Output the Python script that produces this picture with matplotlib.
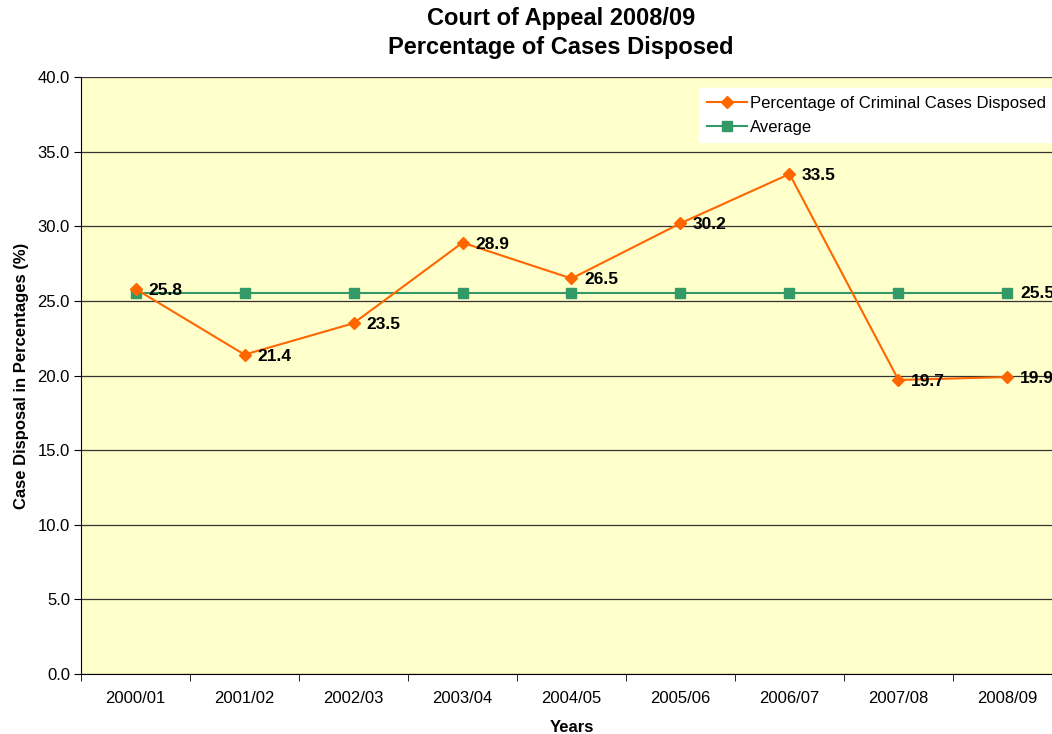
import matplotlib.pyplot as plt
import numpy as np

plt.rcParams['font.family'] = ['Liberation Sans', 'DejaVu Sans']

years = ["2000/01", "2001/02", "2002/03", "2003/04", "2004/05",
         "2005/06", "2006/07", "2007/08", "2008/09"]
criminal = [25.8, 21.4, 23.5, 28.9, 26.5, 30.2, 33.5, 19.7, 19.9]
average = [25.5] * 9

ORANGE = "#FF6600"
GREEN = "#339966"

fig = plt.figure(figsize=(10.52, 7.34), dpi=100)
ax = fig.add_axes([0.077, 0.0817, 0.9325, 0.8134])
ax.set_facecolor("#FFFFCC")

x = np.arange(len(years))
ax.plot(x, criminal, color=ORANGE, marker="D", markersize=6, lw=1.5,
        label="Percentage of Criminal Cases Disposed", zorder=4)
ax.plot(x, average, color=GREEN, marker="s", markersize=7, lw=1.5,
        label="Average", zorder=3)

for xi, v in zip(x, criminal):
    ax.annotate(f"{v:.1f}", (xi, v), xytext=(9, -1), textcoords="offset points",
                ha="left", va="center", fontsize=12.5, fontweight="bold", zorder=5)
ax.annotate(f"{average[-1]:.1f}", (x[-1], average[-1]), xytext=(9, 0),
            textcoords="offset points", ha="left", va="center",
            fontsize=12.5, fontweight="bold", zorder=5)

ax.set_ylim(0, 40)
ax.set_yticks(np.arange(0, 40.1, 5))
ax.set_yticklabels([f"{t:.1f}" for t in np.arange(0, 40.1, 5)], fontsize=12)
ax.set_xlim(-0.5, len(years) - 0.5)
ax.set_xticks(x)
ax.set_xticklabels(years, fontsize=12)
ax.set_xticks(np.arange(-0.5, len(years)), minor=True)
ax.tick_params(axis="x", which="major", length=0, pad=12)
ax.tick_params(axis="x", which="minor", length=5, direction="out")
ax.tick_params(axis="y", length=5, direction="out", pad=3)

ax.yaxis.grid(True, color="#333333", lw=0.9)
ax.set_axisbelow(True)
for s in ["top", "right"]:
    ax.spines[s].set_visible(False)
ax.spines["left"].set_color("black")
ax.spines["bottom"].set_color("black")

ax.set_xlabel("Years", fontsize=12, fontweight="bold", labelpad=10)
ax.set_ylabel("Case Disposal in Percentages (%)", fontsize=12,
              fontweight="bold", labelpad=6)
fig.text(0.533, 0.99, "Court of Appeal 2008/09\nPercentage of Cases Disposed",
         ha="center", va="top", fontsize=17, fontweight="bold", linespacing=1.3)

leg = ax.legend(loc="upper right", bbox_to_anchor=(1.0, 0.995), fontsize=12,
                frameon=True, fancybox=False, framealpha=1, edgecolor="white",
                handlelength=2.4, borderpad=0.45, labelspacing=0.55,
                handletextpad=0.2)

fig.savefig("out.png", dpi=100)
